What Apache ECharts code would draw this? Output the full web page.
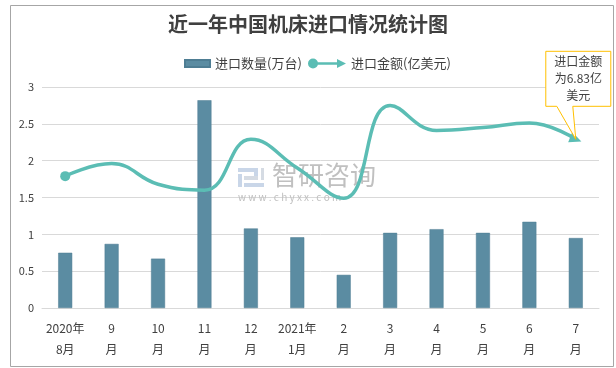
<!DOCTYPE html>
<html>
<head>
<meta charset="utf-8">
<script src="https://cdn.jsdelivr.net/npm/echarts@6/dist/echarts.min.js"></script>
<style>
html,body{margin:0;padding:0;background:#fff;}
#c{width:616px;height:368px;}
</style>
</head>
<body>
<div id="c"></div>
<script>
var categories = ['2020年\n8月','9\n月','10\n月','11\n月','12\n月','2021年\n1月','2\n月','3\n月','4\n月','5\n月','6\n月','7\n月'];
var quantity = [0.75, 0.87, 0.67, 2.82, 1.08, 0.96, 0.45, 1.02, 1.07, 1.02, 1.17, 0.95];
var amount = [1.79, 1.96, 1.68, 1.6, 2.29, 1.9, 1.49, 2.75, 2.41, 2.45, 2.51, 2.29];
var yTicks = [0, 0.5, 1, 1.5, 2, 2.5, 3];
var titleText = '近一年中国机床进口情况统计图';
var seriesNames = ['进口数量(万台)', '进口金额(亿美元)'];
var calloutText = '进口金额\n为6.83亿\n美元';

var FONT = '"Noto Sans CJK SC", "Microsoft YaHei", sans-serif';
var chart = echarts.init(document.getElementById('c'), null, {renderer: 'canvas'});

var lineData = amount.map(function (v, i) {
  var item = {value: v};
  if (i === 0) {
    item.symbol = 'circle'; item.symbolSize = 10;
  } else if (i === amount.length - 1) {
    item.symbol = 'triangle'; item.symbolSize = [11, 12]; item.symbolRotate = -112;
  } else {
    item.symbol = 'none';
  }
  return item;
});

var lineIcon = 'path://M0,5 A5,5 0 1,1 10,5 A5,5 0 1,1 0,5 Z M8,3.8 L30,3.8 L30,6.2 L8,6.2 Z M29,0.5 L38,5 L29,9.5 Z';

var option = {
  animation: false,
  backgroundColor: '#fff',
  title: {
    text: titleText,
    left: 'center',
    top: 9,
    textStyle: {fontFamily: FONT, fontSize: 20, fontWeight: 'bold', color: '#404040'}
  },
  legend: [{
    data: [seriesNames[0]],
    left: 179, top: 52,
    itemWidth: 25, itemHeight: 7, itemGap: 6,
    textStyle: {fontFamily: FONT, fontSize: 13, color: '#404040'},
    icon: 'rect'
  }, {
    data: [{name: seriesNames[1], icon: lineIcon}],
    left: 303, top: 52,
    itemWidth: 38, itemHeight: 10, itemGap: 6,
    textStyle: {fontFamily: FONT, fontSize: 13, color: '#404040'}
  }],
  grid: {left: 42, right: 17, top: 87, bottom: 60},
  xAxis: {
    type: 'category',
    data: categories,
    axisTick: {show: false},
    axisLine: {lineStyle: {color: '#d9d9d9'}},
    axisLabel: {fontFamily: FONT, fontSize: 12, color: '#404040', lineHeight: 21, margin: 10, interval: 0}
  },
  yAxis: {
    type: 'value',
    min: yTicks[0], max: yTicks[yTicks.length - 1], interval: 0.5,
    axisLine: {show: false},
    axisTick: {show: false},
    splitLine: {lineStyle: {color: '#d9d9d9'}},
    axisLabel: {fontFamily: FONT, fontSize: 11, color: '#404040', margin: 8}
  },
  series: [{
    name: seriesNames[0],
    type: 'bar',
    data: quantity,
    barWidth: 14,
    itemStyle: {color: '#5B8CA2', borderColor: '#4E7D93', borderWidth: 0.5}
  }, {
    name: seriesNames[1],
    type: 'line',
    data: lineData,
    smooth: 0.45,
    lineStyle: {color: '#5BBDB4', width: 3.5},
    itemStyle: {color: '#5BBDB4'},
    z: 5
  }],
  graphic: [
    {type: 'rect', left: 238, top: 168, shape: {width: 20, height: 4}, style: {fill: '#c9d6e8'}, z: 1},
    {type: 'rect', left: 254, top: 168, shape: {width: 4, height: 10}, style: {fill: '#c9d6e8'}, z: 1},
    {type: 'rect', left: 238, top: 174, shape: {width: 4, height: 13}, style: {fill: '#c9d6e8'}, z: 1},
    {type: 'rect', left: 244, top: 176, shape: {width: 14, height: 4}, style: {fill: '#d5dbe3'}, z: 1},
    {type: 'rect', left: 244, top: 183, shape: {width: 20, height: 4}, style: {fill: '#c9d6e8'}, z: 1},
    {type: 'rect', left: 261, top: 168, shape: {width: 3, height: 12}, style: {fill: '#d5dbe3'}, z: 1},
    {type: 'text', left: 272, top: 162, style: {text: '智研咨询', fontFamily: FONT, fontSize: 26, fill: '#c0c0c0'}, z: 1},
    {type: 'text', left: 238, top: 192, style: {text: 'w w w . c h y x x . c o m', fontFamily: FONT, fontSize: 10, fill: '#c0c0c0'}, z: 1},
    {type: 'rect', left: 8, top: 3, shape: {width: 603, height: 361}, style: {fill: null, stroke: '#a6a6a6', lineWidth: 1}, silent: true, z: 0}
  ]
};
chart.setOption(option);

var lastIdx = amount.length - 1;
var pt = chart.convertToPixel({seriesIndex: 1}, [lastIdx, amount[lastIdx]]);
var bx = pt[0] - 30, by = pt[1] - 88, bw = 65, bh = 55;
chart.setOption({
  graphic: option.graphic.concat([
    {type: 'polygon', shape: {points: [[bx, by], [bx + bw, by], [bx + bw, by + bh], [bx + 27, by + bh], [pt[0], pt[1]], [bx + 11, by + bh], [bx, by + bh]]},
     style: {fill: '#fff', stroke: '#FFC000', lineWidth: 1}, z: 10},
    {type: 'text', x: bx + bw / 2, y: by + bh / 2, style: {text: calloutText, fontFamily: FONT, fontSize: 12, lineHeight: 17, fill: '#404040', align: 'center', verticalAlign: 'middle'}, z: 11}
  ])
});
</script>
</body>
</html>
